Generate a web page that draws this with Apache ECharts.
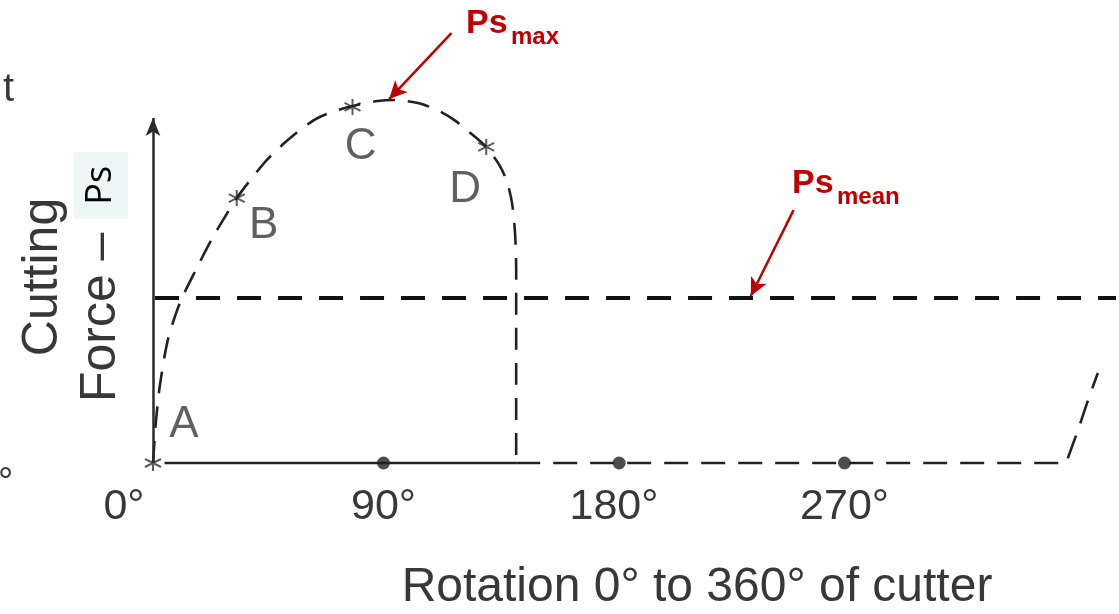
<!DOCTYPE html>
<html>
<head>
<meta charset="utf-8">
<script src="https://cdn.jsdelivr.net/npm/echarts@6/dist/echarts.min.js"></script>
<style>
html,body{margin:0;padding:0;background:#fff;}
#chart{width:1119px;height:614px;}
</style>
</head>
<body>
<div id="chart"></div>
<script>
// ---- data (rotation in degrees, cutting force in relative units) ----
const tickLabels = ['0°', '90°', '180°', '270°'];
const curveX = [0, 1.2, 2.7, 5.8, 10.5, 17.1, 23.4, 28.8, 32.7, 38.6, 44.4, 51.4, 58.4, 64.3, 70.9, 77.9, 87.7, 94.3, 99.0, 105.2, 111.8, 117.7, 123.5, 130.1, 135.2, 138.3, 140.3, 141.4, 141.8, 141.8];
const curveY = [0, 12.5, 22.6, 35.7, 46.4, 56.5, 65.5, 72.2, 76.8, 82.6, 87.8, 92.8, 97.1, 100, 102, 103.5, 104.9, 105.2, 104.9, 104.0, 102.0, 99.4, 95.9, 91.6, 86.4, 81.4, 74.8, 66.1, 55.9, 0];
const solidBaseX = [4.5, 141.8];
const solidBaseY = [0, 0];
const idleX = [141.8, 356.5, 361.2, 365.1, 368.9];
const idleY = [0, 0, 9.6, 18.3, 26.1];
const meanX = [0.8, 376];
const meanY = [47.8, 47.8];
const starNames = ['A', 'B', 'C', 'D'];
const starX = [0, 32.7, 77.9, 130.1];
const starY = [0, 76.8, 103.2, 91.6];
const dotX = [90, 182, 270];
const dotY = [0, 0, 0];
const forceAxisFrom = [0, 0], forceAxisTo = [0, 100];
const arrowMaxFrom = [116.5, 124.6], arrowMaxTo = [92.2, 105.5];
const arrowMeanFrom = [250.1, 73.3], arrowMeanTo = [233.4, 48.4];

// ---- styling ----
const FONT = "'Liberation Sans', Arial, sans-serif";
const INK = '#222';
const TXT = '#383838';
const RED = '#c00000';
const labelOffsets = [[31, -38], [27, 28], [8, 40], [-21, 43]];
const zip = (a, b) => a.map((v, i) => [v, b[i]]);

const chart = echarts.init(document.getElementById('chart'));
const option = {
  animation: false,
  backgroundColor: '#ffffff',
  grid: { left: 153, right: 1, top: 0, bottom: 151 },
  xAxis: {
    type: 'value', min: 0, max: 376, interval: 90,
    axisLine: { show: false }, axisTick: { show: false }, splitLine: { show: false },
    axisLabel: {
      margin: 23, fontFamily: FONT, fontSize: 43, color: TXT,
      formatter: function (v) {
        const i = Math.round(v / 90);
        const t = (v % 90 === 0 && tickLabels[i]) ? tickLabels[i] : '';
        return i === 0 ? '{z|' + t + '}' : t;
      },
      rich: { z: { fontFamily: FONT, fontSize: 43, color: TXT, padding: [0, 58, 0, 0] } }
    }
  },
  yAxis: {
    type: 'value', min: 0, max: 134.2,
    axisLine: { show: false },
    axisTick: { show: false }, axisLabel: { show: false }, splitLine: { show: false }
  },
  series: [
    {
      type: 'line', data: zip(meanX, meanY), symbol: 'none', silent: true, clip: false,
      lineStyle: { color: '#111', width: 4, type: [24, 17] },
      markLine: {
        silent: true, symbol: ['none', 'arrow'], symbolSize: [13, 18],
        label: { show: false },
        lineStyle: { color: RED, width: 2.5, type: 'solid' },
        emphasis: { disabled: true },
        data: [
          [{ coord: arrowMaxFrom }, { coord: arrowMaxTo }],
          [{ coord: arrowMeanFrom }, { coord: arrowMeanTo }],
          [{ coord: forceAxisFrom, lineStyle: { color: '#2a2a2a', width: 2.5 } },
           { coord: forceAxisTo, symbolSize: [11, 18], lineStyle: { color: '#2a2a2a', width: 2.5 } }]
        ]
      }
    },
    {
      type: 'line', data: zip(curveX, curveY), symbol: 'none', silent: true, clip: false,
      smooth: 0.25,
      lineStyle: { color: INK, width: 2.6, type: [22, 13] }
    },
    {
      type: 'line', data: zip(solidBaseX, solidBaseY), symbol: 'none', silent: true, clip: false,
      lineStyle: { color: INK, width: 2.6 }
    },
    {
      type: 'line', data: zip(idleX, idleY), symbol: 'none', silent: true, clip: false,
      lineStyle: { color: INK, width: 2.6, type: [24, 13] }
    },
    {
      type: 'scatter', silent: true, clip: false,
      symbol: 'path://M10,0L10,20M1.34,5L18.66,15M1.34,15L18.66,5',
      symbolSize: 16,
      itemStyle: { color: 'rgba(0,0,0,0)', borderColor: '#333', borderWidth: 2 },
      data: starX.map((x, i) => ({
        name: starNames[i], value: [x, starY[i]],
        label: { offset: labelOffsets[i] }
      })),
      label: { show: true, position: 'inside', formatter: '{b}', fontFamily: FONT, fontSize: 44, color: TXT }
    },
    {
      type: 'scatter', silent: true, clip: false, symbol: 'circle', symbolSize: 13,
      itemStyle: { color: INK }, data: zip(dotX, dotY)
    }
  ],
  graphic: [
    {
      type: 'text', x: 72, y: 277, rotation: Math.PI / 2, silent: true,
      style: {
        text: 'Cutting\nForce – {ps|Ps}', align: 'center', verticalAlign: 'middle',
        fontFamily: FONT, fontSize: 50, lineHeight: 58, fill: TXT,
        rich: { ps: { fontFamily: "'Open Sans', 'Noto Sans', sans-serif", fontSize: 36, fill: '#000',
          backgroundColor: '#eef7f8', padding: [9, 14, 9, 14], lineHeight: 42 } }
      }
    },
    {
      type: 'text', x: 697, y: 588, silent: true,
      style: { text: 'Rotation 0° to 360° of cutter', align: 'center', verticalAlign: 'middle',
        fontFamily: FONT, fontSize: 48, fill: TXT }
    },
    { type: 'text', x: 466, y: 24, silent: true,
      style: { text: 'Ps', fontFamily: FONT, fontWeight: 'bold', fontSize: 34, fill: RED, verticalAlign: 'middle' } },
    { type: 'text', x: 511, y: 37, silent: true,
      style: { text: 'max', fontFamily: FONT, fontWeight: 'bold', fontSize: 24, fill: RED, verticalAlign: 'middle' } },
    { type: 'text', x: 792, y: 184, silent: true,
      style: { text: 'Ps', fontFamily: FONT, fontWeight: 'bold', fontSize: 34, fill: RED, verticalAlign: 'middle' } },
    { type: 'text', x: 837, y: 197, silent: true,
      style: { text: 'mean', fontFamily: FONT, fontWeight: 'bold', fontSize: 24, fill: RED, verticalAlign: 'middle' } },
    { type: 'text', x: 3, y: 90, silent: true,
      style: { text: 't', fontFamily: FONT, fontSize: 40, fill: TXT, verticalAlign: 'middle' } },
    { type: 'text', x: -2, y: 484, silent: true,
      style: { text: '°', fontFamily: FONT, fontSize: 38, fill: TXT, verticalAlign: 'middle' } }
  ]
};
chart.setOption(option);
</script>
</body>
</html>
